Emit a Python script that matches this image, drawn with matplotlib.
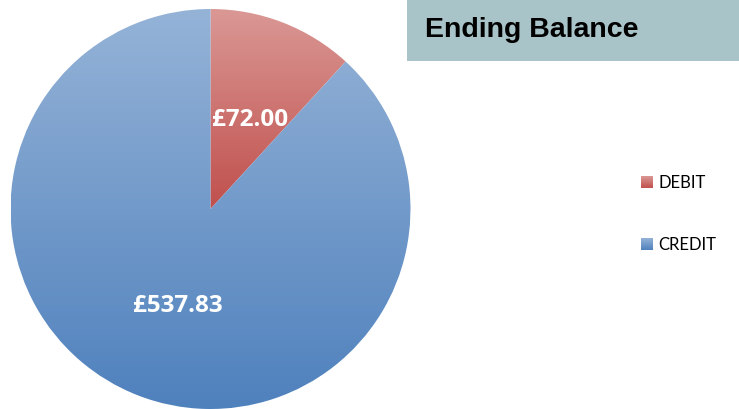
import matplotlib
matplotlib.use("Agg")
import matplotlib.pyplot as plt
import numpy as np
from matplotlib.colors import LinearSegmentedColormap
from matplotlib.patches import Rectangle

labels = ["DEBIT", "CREDIT"]
values = [72.00, 537.83]
top_colors = ["#DA9895", "#95B3D7"]
bottom_colors = ["#C0504D", "#4F81BD"]
title = "Ending Balance"

W, H = 739, 410
fig = plt.figure(figsize=(W / 100, H / 100), dpi=100)
ax = fig.add_axes([0, 0, 1, 1])

cx, cy, r = 210.5, 210.0, 200.0


def grad(ax, x0, x1, y0, y1, c_top, c_bot, clip=None):
    cmap = LinearSegmentedColormap.from_list("g", [c_bot, c_top])
    arr = np.linspace(0, 1, 256).reshape(-1, 1)
    im = ax.imshow(arr, cmap=cmap, extent=[x0, x1, y0, y1], origin="lower",
                   aspect="auto", interpolation="bilinear", zorder=1)
    if clip is not None:
        im.set_clip_path(clip)
    return im


wedges, texts, autotexts = ax.pie(
    values, startangle=90, counterclock=False, center=(cx, H - cy), radius=r,
    autopct=lambda p: "£{:.2f}".format(p * sum(values) / 100),
    pctdistance=0.5, labels=None,
    textprops=dict(color="white", fontsize=17.5, fontweight="bold", family="Open Sans"),
    wedgeprops=dict(linewidth=0),
)

for i, w in enumerate(wedges):
    w.set_facecolor("none")
    if i == 0:
        y0, y1 = H - cy, H - cy + r
    else:
        y0, y1 = H - cy - r, H - cy + r
    grad(ax, cx - r, cx + r, y0, y1, top_colors[i], bottom_colors[i], clip=w)

for t in autotexts:
    t.set_zorder(5)
# small nudge to match the label placement
autotexts[0].set_position((250, H - 120))
autotexts[1].set_position((177.5, H - 306))

# title box
ax.add_patch(Rectangle((407, H - 62), W - 407, 62, facecolor="#A9C4C9",
                       edgecolor="none", zorder=2))
ax.text(425, H - 30, title, fontsize=20.5, fontweight="bold",
        family="Liberation Sans", va="center", ha="left", color="black", zorder=3)

# legend
leg_y = [183, 245]
for i, lab in enumerate(labels):
    yc = H - leg_y[i]
    sq = Rectangle((641, yc - 6), 12, 12, facecolor="none", edgecolor="none")
    ax.add_patch(sq)
    grad(ax, 641, 653, yc - 6, yc + 6, top_colors[i], bottom_colors[i], clip=sq)
    ax.text(658, yc, lab, fontsize=12, family="Lato", va="center",
            ha="left", color="black", zorder=3)

ax.set_xlim(0, W)
ax.set_ylim(0, H)
ax.set_aspect("auto")
ax.axis("off")

fig.savefig("out.png", dpi=100)
